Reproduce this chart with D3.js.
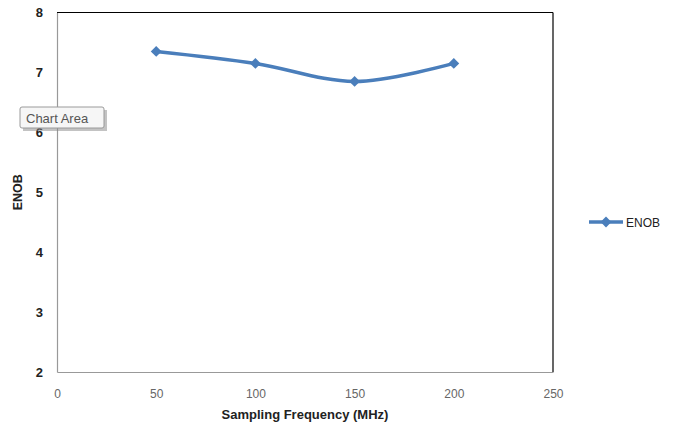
<!DOCTYPE html>
<html>
<head>
<meta charset="utf-8">
<script src="https://cdn.jsdelivr.net/npm/d3@7"></script>
<style>
  body { margin: 0; background: #fff; }
  svg { display: block; font-family: "Liberation Sans", Arial, sans-serif; }
</style>
</head>
<body>
<svg id="chart"></svg>
<script>
const freqs = [50, 100, 150, 200]
const enob = [7.35, 7.15, 6.85, 7.15]
const xTicks = [0, 50, 100, 150, 200, 250]
const yTicks = [2, 3, 4, 5, 6, 7, 8]

const width = 676, height = 429
const plot = { left: 57, top: 12.5, right: 553, bottom: 372 }
const color = "#4a7ebb"

const svg = d3.select("#chart").attr("width", width).attr("height", height)

const x = d3.scaleLinear().domain([0, 250]).range([plot.left, plot.right])
const y = d3.scaleLinear().domain([2, 8]).range([plot.bottom, plot.top])

// plot area frame: black top/right, gray axes left/bottom
svg.append("line").attr("x1", plot.left).attr("x2", plot.right).attr("y1", plot.top).attr("y2", plot.top)
  .attr("stroke", "#000").attr("stroke-width", 1.2)
svg.append("line").attr("x1", plot.right).attr("x2", plot.right).attr("y1", plot.top).attr("y2", plot.bottom)
  .attr("stroke", "#000").attr("stroke-width", 1.2)

const yAxis = svg.append("g")
  .attr("transform", `translate(${plot.left},0)`)
  .call(d3.axisLeft(y).tickValues(yTicks).tickSize(0).tickPadding(14).tickFormat(d3.format("d")))
yAxis.select(".domain").attr("stroke", "#999").attr("stroke-width", 1.2)
yAxis.selectAll("text").attr("font-size", 13).attr("font-weight", "bold").attr("fill", "#222")

const xAxis = svg.append("g")
  .attr("transform", `translate(0,${plot.bottom})`)
  .call(d3.axisBottom(x).tickValues(xTicks).tickSize(0).tickPadding(17).tickFormat(d3.format("d")))
xAxis.select(".domain").attr("stroke", "#999").attr("stroke-width", 1.2)
xAxis.selectAll("text").attr("font-size", 12).attr("fill", "#666")

svg.append("text")
  .attr("x", x(125)).attr("y", 419)
  .attr("text-anchor", "middle")
  .attr("font-size", 13).attr("font-weight", "bold").attr("fill", "#222")
  .text("Sampling Frequency (MHz)")

svg.append("text")
  .attr("transform", `translate(22,${y(5)}) rotate(-90)`)
  .attr("text-anchor", "middle")
  .attr("font-size", 12.5).attr("font-weight", "bold").attr("fill", "#222")
  .text("ENOB")

const data = freqs.map((f, i) => ({ f, v: enob[i] }))

const line = d3.line()
  .x(d => x(d.f))
  .y(d => y(d.v))
  .curve(d3.curveCatmullRom.alpha(0.5))

svg.append("path")
  .datum(data)
  .attr("fill", "none")
  .attr("stroke", color)
  .attr("stroke-width", 3.5)
  .attr("d", line)

const diamond = d3.symbol().type(d3.symbolDiamond2).size(75)

svg.selectAll(".pt")
  .data(data)
  .enter()
  .append("path")
  .attr("class", "pt")
  .attr("transform", d => `translate(${x(d.f)},${y(d.v)})`)
  .attr("d", diamond)
  .attr("fill", color)

// legend
const lg = svg.append("g").attr("transform", "translate(589,222)")
lg.append("line").attr("x1", 0).attr("x2", 34).attr("y1", 0).attr("y2", 0)
  .attr("stroke", color).attr("stroke-width", 3.5)
lg.append("path").attr("transform", "translate(17,0)").attr("d", diamond).attr("fill", color)
lg.append("text").attr("x", 37).attr("y", 4.5).attr("font-size", 12).attr("fill", "#222").text("ENOB")

// "Chart Area" tooltip
const tip = svg.append("g").attr("transform", "translate(20,107)")
tip.append("rect").attr("x", 3).attr("y", 3).attr("width", 84).attr("height", 21)
  .attr("fill", "#888").attr("opacity", 0.5)
tip.append("rect").attr("x", 0).attr("y", 0).attr("width", 84).attr("height", 21)
  .attr("fill", "#f6f6f6").attr("stroke", "#9a9a9a").attr("rx", 2)
tip.append("text").attr("x", 6).attr("y", 15.5).attr("font-size", 13).attr("fill", "#555").text("Chart Area")
</script>
</body>
</html>
